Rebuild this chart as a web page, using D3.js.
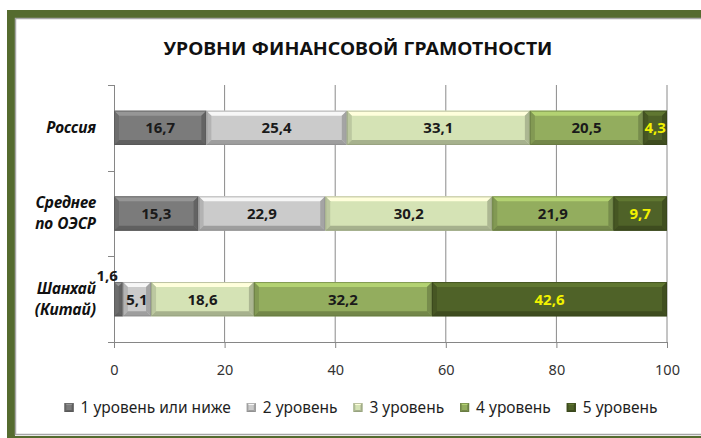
<!DOCTYPE html>
<html>
<head>
<meta charset="utf-8">
<script src="https://cdn.jsdelivr.net/npm/d3@7"></script>
<style>
    html, body { margin: 0; padding: 0; background: #ffffff; }
    svg { display: block; }
</style>
</head>
<body>
<svg id="svg"></svg>
<script>
// данные
const categories = [['Россия'], ['Среднее', 'по ОЭСР'], ['Шанхай', '(Китай)']]
const levels = ['1 уровень или ниже', '2 уровень', '3 уровень', '4 уровень', '5 уровень']
const level1 = [16.7, 15.3, 1.6]
const level2 = [25.4, 22.9, 5.1]
const level3 = [33.1, 30.2, 18.6]
const level4 = [20.5, 21.9, 32.2]
const level5 = [4.3, 9.7, 42.6]
const xTicks = [0, 20, 40, 60, 80, 100]
const title = 'УРОВНИ ФИНАНСОВОЙ ГРАМОТНОСТИ'

const series = [level1, level2, level3, level4, level5]
const colors = ['#7b7b7b', '#cbcbcb', '#d5e3b5', '#93ad5e', '#4f6228']
const labelColors = ['#1a1a1a', '#1a1a1a', '#1a1a1a', '#1a1a1a', '#f2f200']

const W = 701, H = 438
const font = '"Noto Sans", "DejaVu Sans", sans-serif'
const fmt = v => d3.format('.1f')(v).replace('.', ',')

const svg = d3.select('#svg').attr('width', W).attr('height', H)

// рамка
svg.append('rect').attr('x', 0).attr('y', 0).attr('width', W).attr('height', H).attr('fill', '#ffffff')
svg.append('rect')
    .attr('x', 11).attr('y', 14).attr('width', W).attr('height', 426)
    .attr('fill', 'none').attr('stroke', '#556b2f').attr('stroke-width', 8)
svg.append('rect')
    .attr('x', 15.5).attr('y', 18.5).attr('width', W).attr('height', 416)
    .attr('fill', 'none').attr('stroke', '#a6a6a6').attr('stroke-width', 1.5)

// заголовок
svg.append('text')
    .text(title)
    .attr('x', 358).attr('y', 55)
    .attr('text-anchor', 'middle')
    .attr('font-family', font).attr('font-size', 18).attr('font-weight', 'bold')
    .attr('fill', '#111111')
    .attr('textLength', 389).attr('lengthAdjust', 'spacingAndGlyphs')

const x = d3.scaleLinear().domain([0, 100]).range([114, 667])
const y = d3.scaleBand().domain(d3.range(categories.length)).range([85, 342])
    .paddingInner(0.6).paddingOuter(0.3)
const step = y.step()

// сетка
svg.append('g')
    .selectAll('line').data(xTicks.slice(1)).join('line')
    .attr('x1', d => x(d)).attr('x2', d => x(d))
    .attr('y1', 85).attr('y2', 342)
    .attr('stroke', '#8a8a8a').attr('stroke-width', 1)

// оси
const xAxis = svg.append('g')
    .attr('transform', 'translate(0,342)')
    .call(d3.axisBottom(x).tickValues(xTicks).tickSize(6).tickPadding(17).tickFormat(d3.format('d')))
xAxis.select('.domain').attr('stroke', '#868686').attr('d', `M${x(0) - 6},0.5H${x(100)}`)
xAxis.selectAll('.tick line').attr('stroke', '#868686')
xAxis.selectAll('.tick text')
    .attr('font-family', font).attr('font-size', 14.5).attr('fill', '#333333')

const bounds = d3.range(categories.length + 1).map(i => 85 + i * step)
svg.append('line')
    .attr('x1', x(0) + 0.5).attr('x2', x(0) + 0.5).attr('y1', 85).attr('y2', 348)
    .attr('stroke', '#868686')
svg.append('g')
    .selectAll('line').data(bounds).join('line')
    .attr('x1', x(0) - 6).attr('x2', x(0))
    .attr('y1', d => Math.round(d) + 0.5).attr('y2', d => Math.round(d) + 0.5)
    .attr('stroke', '#868686')

// подписи категорий
categories.forEach((lines, i) => {
    const cy = y(i) + y.bandwidth() / 2
    lines.forEach((line, j) => {
        svg.append('text')
            .text(line)
            .attr('x', 96)
            .attr('y', cy + 5 + (j - (lines.length - 1) / 2) * 21)
            .attr('text-anchor', 'end')
            .attr('font-family', font).attr('font-size', 15.5)
            .attr('font-weight', 'bold').attr('font-style', 'italic')
            .attr('fill', '#111111')
    })
})

// объёмный прямоугольник
function bevelRect(g, x0, y0, w, h, color, b)
{
    b = Math.min(b, w / 2, h / 2)
    const c = d3.color(color)
    g.append('rect')
        .attr('x', x0).attr('y', y0).attr('width', w).attr('height', h)
        .attr('fill', color)
    const polys = [
        [[x0, y0], [x0 + w, y0], [x0 + w - b, y0 + b], [x0 + b, y0 + b], c.brighter(0.55)],
        [[x0, y0], [x0 + b, y0 + b], [x0 + b, y0 + h - b], [x0, y0 + h], c.darker(0.35)],
        [[x0, y0 + h], [x0 + b, y0 + h - b], [x0 + w - b, y0 + h - b], [x0 + w, y0 + h], c.darker(0.7)],
        [[x0 + w, y0], [x0 + w, y0 + h], [x0 + w - b, y0 + h - b], [x0 + w - b, y0 + b], c.darker(0.6)]
    ]
    polys.forEach(p => {
        g.append('polygon')
            .attr('points', p.slice(0, 4).map(q => q.join(',')).join(' '))
            .attr('fill', p[4])
    })
    g.append('rect')
        .attr('x', x0 + 0.5).attr('y', y0 + 0.5).attr('width', w - 1).attr('height', h - 1)
        .attr('fill', 'none').attr('stroke', c.darker(1.1)).attr('stroke-opacity', 0.6)
}

// столбцы
const bars = svg.append('g')
const labels = svg.append('g')
categories.forEach((c, i) => {
    let acc = 0
    series.forEach((s, k) => {
        const v = s[i]
        const x0 = x(acc), x1 = Math.min(x(acc + v), x(100))
        bevelRect(bars, x0, y(i), x1 - x0, y.bandwidth(), colors[k], 5)
        const t = labels.append('text')
            .text(fmt(v))
            .attr('font-family', font).attr('font-size', 15).attr('font-weight', 'bold')
            .attr('fill', labelColors[k])
        if (x1 - x0 < 12) {
            t.attr('x', x1 - 5).attr('y', y(i) - 1).attr('text-anchor', 'end')
        } else {
            t.attr('x', (x0 + x1) / 2).attr('y', y(i) + y.bandwidth() / 2 + 5.5).attr('text-anchor', 'middle')
        }
        acc += v
    })
})

// легенда
const legend = svg.append('g')
let lx = 0
levels.forEach((name, k) => {
    const g = legend.append('g')
    bevelRect(g, lx, -10, 9, 9, colors[k], 2)
    const t = g.append('text')
        .text(name)
        .attr('x', lx + 16).attr('y', 0)
        .attr('font-family', font).attr('font-size', 15.5)
        .attr('fill', '#1f1f1f')
    lx += 16 + t.node().getComputedTextLength() + 16
})
const legendWidth = lx - 16
legend.attr('transform', `translate(${361 - legendWidth / 2},413)`)
</script>
</body>
</html>
